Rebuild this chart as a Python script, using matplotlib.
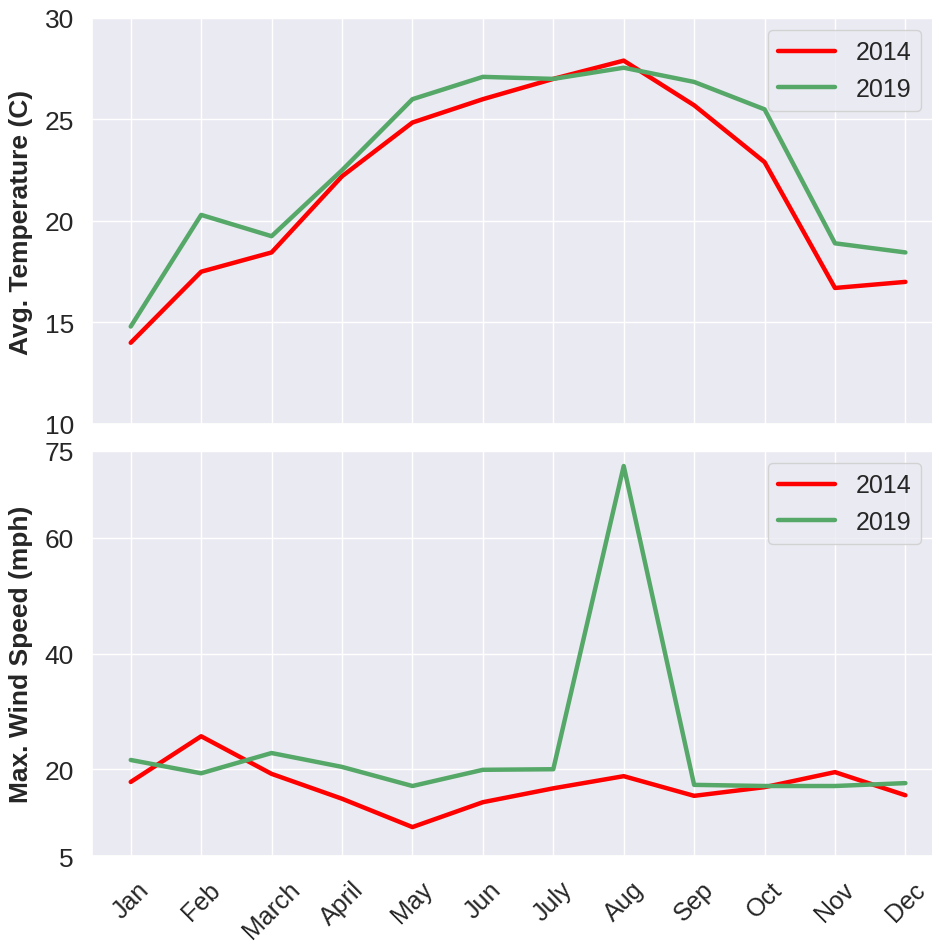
import matplotlib
matplotlib.use("Agg")
import matplotlib.pyplot as plt
import seaborn as sns

months = ['Jan', 'Feb', 'March', 'April', 'May', 'Jun',
          'July', 'Aug', 'Sep', 'Oct', 'Nov', 'Dec']

temp_2014 = [14.0, 17.5, 18.45, 22.2, 24.85, 26.0, 27.0, 27.9, 25.7, 22.9, 16.7, 17.0]
temp_2019 = [14.8, 20.3, 19.25, 22.5, 26.0, 27.1, 27.0, 27.55, 26.85, 25.5, 18.9, 18.45]

wind_2014 = [17.8, 25.7, 19.2, 14.9, 10.0, 14.3, 16.7, 18.8, 15.4, 16.9, 19.5, 15.5]
wind_2019 = [21.6, 19.3, 22.8, 20.4, 17.1, 19.9, 20.0, 72.4, 17.3, 17.1, 17.1, 17.6]

temp_ticks = [10, 15, 20, 25, 30]
wind_ticks = [5, 20, 40, 60, 75]

sns.set(style='darkgrid')
plt.rcParams['font.family'] = ['Liberation Sans', 'DejaVu Sans']

fig = plt.figure(figsize=(9.32, 9.45), dpi=100)
ax1 = fig.add_axes([0.0987, 0.5503, 0.903, 0.4296])
ax2 = fig.add_axes([0.0987, 0.0931, 0.903, 0.4286])

x = list(range(len(months)))

ax1.plot(x, temp_2014, color='red', lw=3.2, label='2014')
ax1.plot(x, temp_2019, color='g', lw=3.2, label='2019')
ax1.set_ylim(10, 30)
ax1.set_yticks(temp_ticks)
ax1.set_xticks(x)
ax1.set_xticklabels([])
ax1.set_ylabel('Avg. Temperature (C)', fontsize=19, fontweight='bold', labelpad=8)
ax1.legend(loc='upper right', fontsize=18, handlelength=2.3)

ax2.plot(x, wind_2014, color='red', lw=3.2, label='2014')
ax2.plot(x, wind_2019, color='g', lw=3.2, label='2019')
ax2.set_ylim(5, 75)
ax2.set_yticks(wind_ticks)
ax2.set_xticks(x)
ax2.set_xticklabels(months, rotation=45)
ax2.set_ylabel('Max. Wind Speed (mph)', fontsize=19, fontweight='bold', labelpad=8)
ax2.legend(loc='upper right', fontsize=18, handlelength=2.3)

for ax in (ax1, ax2):
    ax.set_xlim(-0.55, 11.4)
    ax.tick_params(axis='y', labelsize=19, pad=7)
    ax.tick_params(axis='x', labelsize=18, pad=9)

plt.savefig('out.png', dpi=100)
